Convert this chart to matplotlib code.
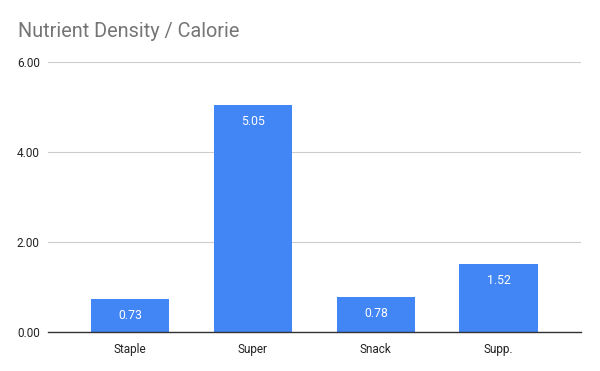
import matplotlib.pyplot as plt

plt.rcParams['font.family'] = ['Roboto', 'DejaVu Sans']

categories = ["Staple", "Super", "Snack", "Supp."]
values = [0.73, 5.05, 0.78, 1.52]
y_ticks = [0, 2, 4, 6]

fig = plt.figure(figsize=(6, 3.71), dpi=100)
ax = fig.add_axes([0.08, 0.105, 0.888, 0.728])

x = list(range(len(categories)))
bars = ax.bar(x, values, width=0.64, color="#4285f4", zorder=3)

for rect, v in zip(bars, values):
    ax.annotate(f"{v:.2f}", (rect.get_x() + rect.get_width() / 2, v),
                xytext=(0, -12), textcoords="offset points", ha="center", va="center",
                color="white", fontsize=8.8, zorder=4)

ax.set_xlim(-0.667, 3.667)
ax.set_ylim(0, 6)
ax.set_xticks(x)
ax.set_xticklabels(categories)
ax.set_yticks(y_ticks)
ax.set_yticklabels([f"{t:.2f}" for t in y_ticks])
ax.tick_params(length=0, labelsize=8.5, colors="#222222")
ax.tick_params(axis="x", pad=8)
ax.tick_params(axis="y", pad=6)
ax.grid(axis="y", color="#cccccc", linewidth=0.8, zorder=0)
for side in ["top", "right", "left"]:
    ax.spines[side].set_visible(False)
ax.spines["bottom"].set_color("#333333")
ax.spines["bottom"].set_linewidth(1)
ax.spines["bottom"].set_zorder(5)

fig.text(0.03, 0.915, "Nutrient Density / Calorie", fontsize=14.3, color="#757575", va="center")

fig.savefig("out.png", dpi=100)
